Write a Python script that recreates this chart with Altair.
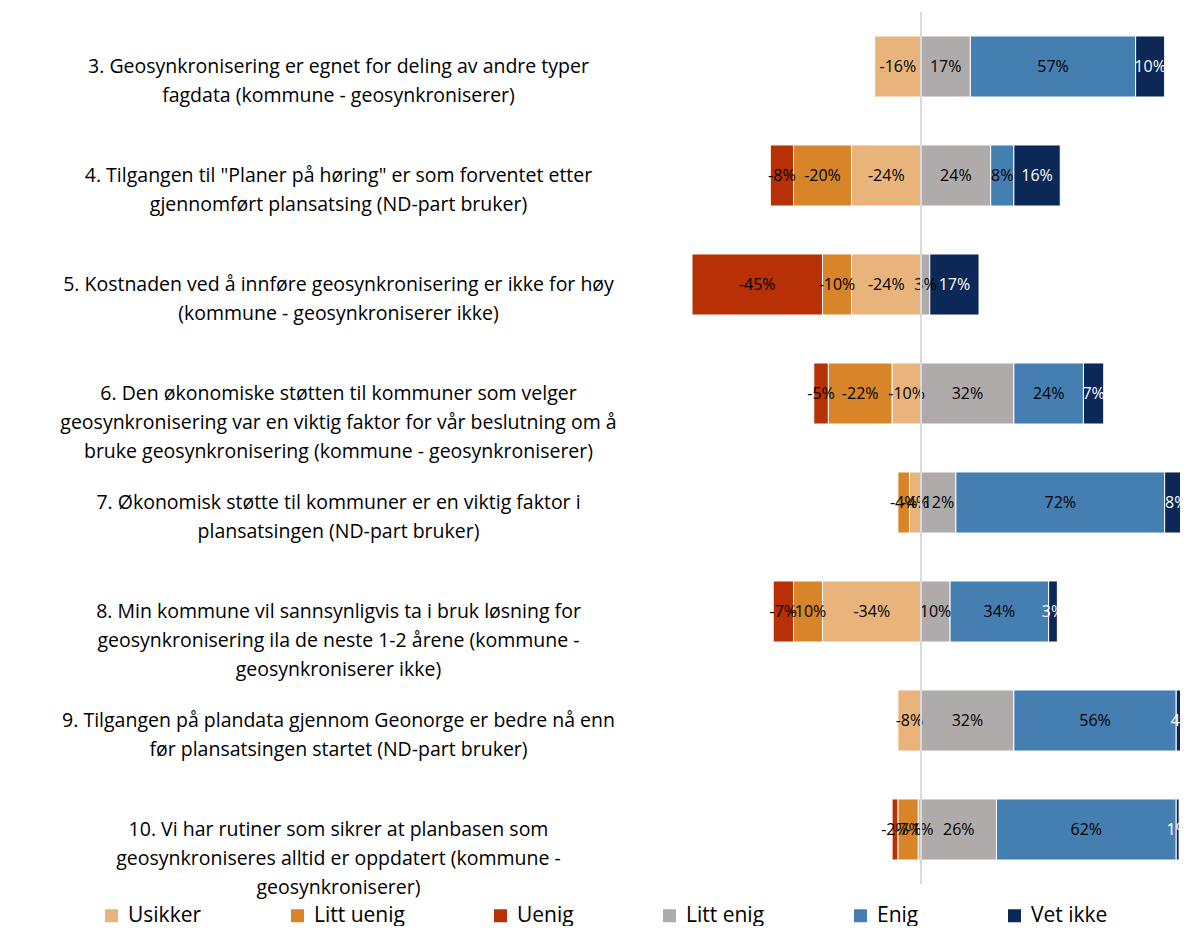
import altair as alt
import pandas as pd

questions = [
    "3. Geosynkronisering er egnet for deling av andre typer\nfagdata (kommune - geosynkroniserer)",
    "4. Tilgangen til \"Planer på høring\" er som forventet etter\ngjennomført plansatsing (ND-part bruker)",
    "5. Kostnaden ved å innføre geosynkronisering er ikke for høy\n(kommune - geosynkroniserer ikke)",
    "6. Den økonomiske støtten til kommuner som velger\ngeosynkronisering var en viktig faktor for vår beslutning om å\nbruke geosynkronisering (kommune - geosynkroniserer)",
    "7. Økonomisk støtte til kommuner er en viktig faktor i\nplansatsingen (ND-part bruker)",
    "8. Min kommune vil sannsynligvis ta i bruk løsning for\ngeosynkronisering ila de neste 1-2 årene (kommune -\ngeosynkroniserer ikke)",
    "9. Tilgangen på plandata gjennom Geonorge er bedre nå enn\nfør plansatsingen startet (ND-part bruker)",
    "10. Vi har rutiner som sikrer at planbasen som\ngeosynkroniseres alltid er oppdatert (kommune -\ngeosynkroniserer)",
]

categories = ["Usikker", "Litt uenig", "Uenig", "Litt enig", "Enig", "Vet ikke"]
colors = ["#E8B47B", "#D78528", "#B83006", "#AFABAA", "#457FB2", "#0C2857"]

usikker = [-16, -24, -24, -10, -4, -34, -8, -1]
litt_uenig = [0, -20, -10, -22, -4, -10, 0, -7]
uenig = [0, -8, -45, -5, 0, -7, 0, -2]
litt_enig = [17, 24, 3, 32, 12, 10, 32, 26]
enig = [57, 8, 0, 24, 72, 34, 56, 62]
vet_ikke = [10, 16, 17, 7, 8, 3, 4, 1]

series = [usikker, litt_uenig, uenig, litt_enig, enig, vet_ikke]

rows = []
for ci, (cat, vals) in enumerate(zip(categories, series)):
    for q, v in zip(questions, vals):
        if v != 0:
            rows.append({"question": q, "category": cat, "value": v, "order": ci})
df = pd.DataFrame(rows)

FONT = "Open Sans"

y = alt.Y(
    "question:N",
    sort=questions,
    scale=alt.Scale(paddingInner=0.44, paddingOuter=0.22),
    axis=alt.Axis(
        title=None,
        labelExpr="split(datum.label, '\\n')",
        labelAlign="center",
        labelBaseline="middle",
        labelPadding=354,
        ticks=False,
        tickSize=0,
        domain=False,
        labelLimit=0,
        labelFontSize=19.5,
        labelFont=FONT,
        labelColor="#000000",
        labelLineHeight=29,
        labelOverlap=False,
    ),
)

xscale = alt.Scale(domain=[-79, 89.3], nice=False, zero=False)

stacked = alt.Chart(df).transform_stack(
    stack="value",
    groupby=["question"],
    as_=["x0", "x1"],
    sort=[alt.SortField("order", order="ascending")],
)

bars = stacked.mark_bar(stroke="white", strokeWidth=1).encode(
    x=alt.X("x0:Q", scale=xscale, axis=None),
    x2="x1:Q",
    y=y,
    color=alt.Color(
        "category:N",
        scale=alt.Scale(domain=categories, range=colors),
        legend=alt.Legend(
            title=None,
            orient="none",
            legendX=-591,
            legendY=893,
            direction="horizontal",
            columns=6,
            symbolType="square",
            symbolSize=169,
            symbolStrokeWidth=0,
            labelFontSize=21,
            labelFont=FONT,
            labelColor="#000000",
            columnPadding=85,
            labelOffset=6,
            labelLimit=0,
        ),
    ),
)

texts = stacked.transform_calculate(
    mid="(datum.x0 + datum.x1) / 2",
    label="datum.value + '%'",
).mark_text(fontSize=16, font=FONT, align="center", baseline="middle").encode(
    x=alt.X("mid:Q", scale=xscale, axis=None),
    y=y,
    text="label:N",
    color=alt.condition(alt.datum.category == "Vet ikke", alt.value("white"), alt.value("black")),
)

rule = alt.Chart(pd.DataFrame({"zero": [0]})).mark_rule(color="#D9D9D9", strokeWidth=2).encode(
    x=alt.X("zero:Q", scale=xscale, axis=None)
)

chart = alt.layer(bars, texts, rule).properties(
    width=488,
    height=872,
    autosize=alt.AutoSizeParams(type="none"),
    padding={"left": 684, "top": 4, "right": 0, "bottom": 42},
).configure_view(stroke=None)

chart.save("out.html", embed_options={"renderer": "svg", "actions": False})
